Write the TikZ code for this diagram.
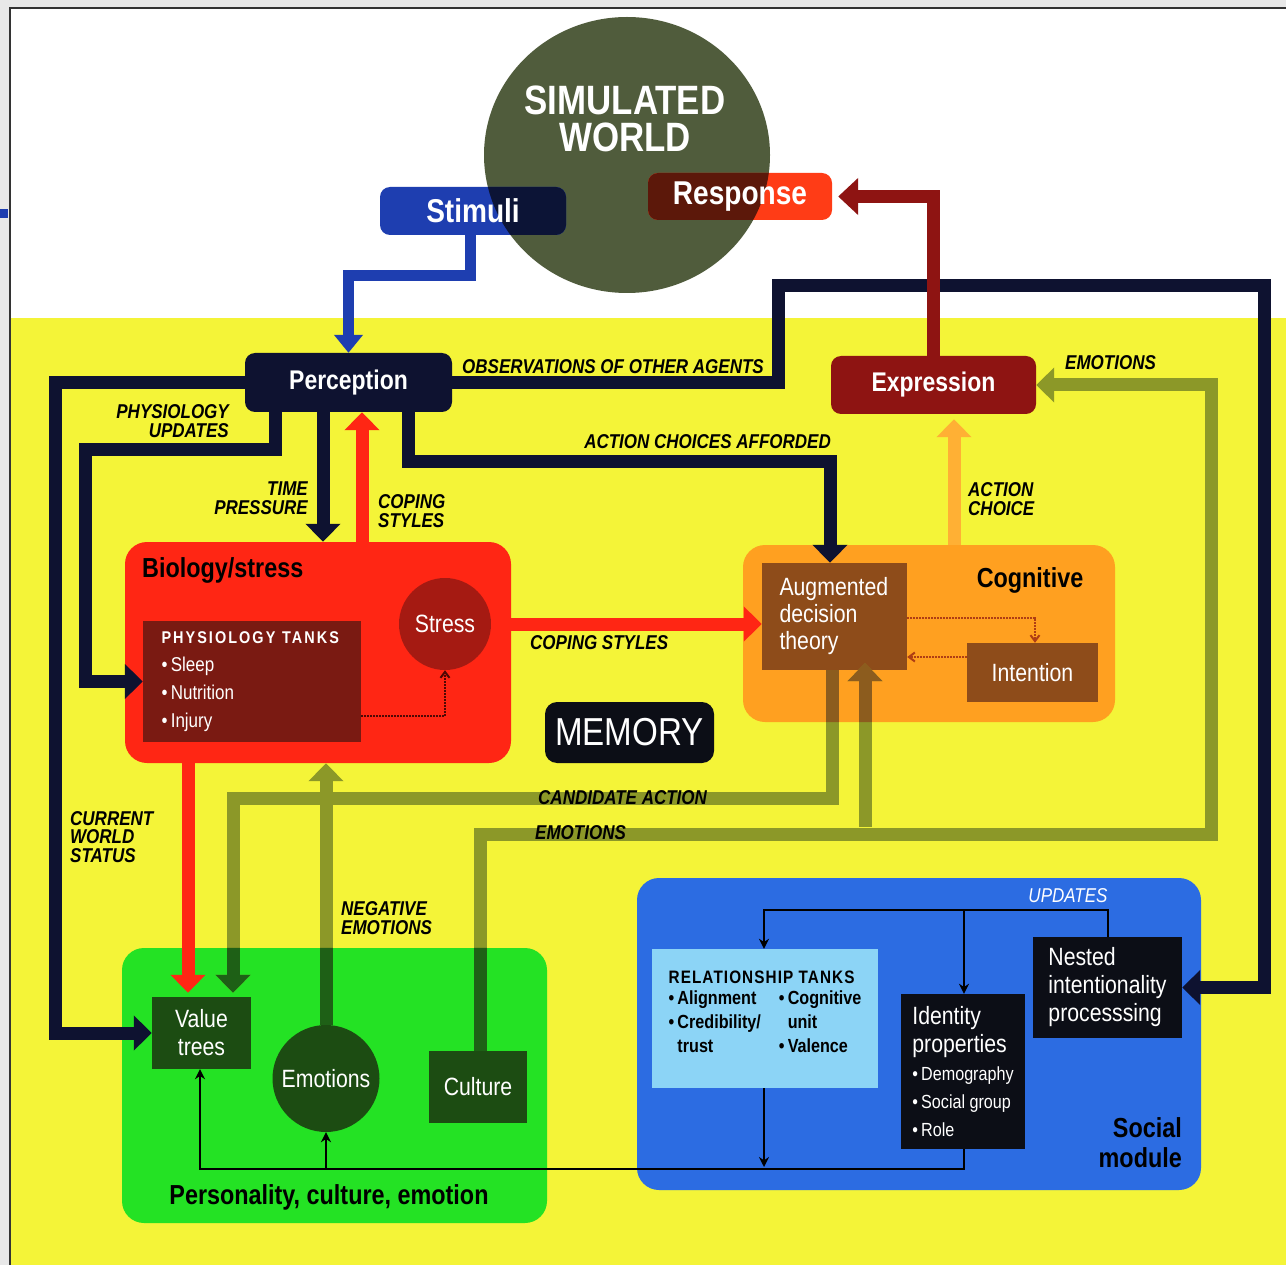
\documentclass[tikz,border=0pt]{standalone}
\usepackage{fontspec}
\setmainfont{Liberation Sans}[FakeStretch=0.85]
\usetikzlibrary{arrows.meta, positioning, shapes.geometric}

\definecolor{paper}{RGB}{232,232,232}
\definecolor{bgyellow}{RGB}{244,244,56}
\definecolor{navyline}{RGB}{14,18,48}
\definecolor{worldgreen}{RGB}{80,92,60}
\definecolor{stimblue}{RGB}{30,62,176}
\definecolor{stimdark}{RGB}{12,20,54}
\definecolor{respred}{RGB}{255,60,22}
\definecolor{respdark}{RGB}{92,24,10}
\definecolor{exprred}{RGB}{142,20,18}
\definecolor{biored}{RGB}{255,38,20}
\definecolor{tankred}{RGB}{122,26,18}
\definecolor{stressred}{RGB}{165,26,18}
\definecolor{cogorange}{RGB}{255,160,32}
\definecolor{actorange}{RGB}{255,176,52}
\definecolor{adtbrown}{RGB}{142,76,26}
\definecolor{persgreen}{RGB}{36,226,36}
\definecolor{treegreen}{RGB}{28,76,18}
\definecolor{emoline}{RGB}{140,152,40}
\definecolor{emogreen}{RGB}{30,96,22}
\definecolor{emobrown}{RGB}{140,92,30}
\definecolor{socblue}{RGB}{44,108,226}
\definecolor{relblue}{RGB}{140,212,246}
\definecolor{boxblack}{RGB}{12,14,22}
\definecolor{dotred}{RGB}{80,8,4}
\definecolor{dotbrown}{RGB}{175,62,20}

\tikzset{
  panel/.style={rectangle, rounded corners=22pt, inner sep=0pt},
  tag/.style={rectangle, rounded corners=10pt, inner sep=0pt, text=white,
    font=\bfseries\fontsize{27}{28}\selectfont},
  inbox/.style={rectangle, inner sep=0pt, text=white,
    font=\fontsize{25}{27}\selectfont},
  paneltitle/.style={inner sep=0pt, font=\bfseries\fontsize{27.5}{30}\selectfont},
  lbl/.style={inner sep=0pt, align=left,
    font=\bfseries\itshape\fontsize{20}{18.5}\selectfont},
  fat/.style={line width=13pt, -{Triangle[width=34pt,length=18pt]}},
  thinarr/.style={line width=2.5pt, -{Stealth[width=10pt,length=10pt]}},
  dotarr/.style={line width=2pt, densely dotted, -{Straight Barb[width=9pt,length=6pt]}},
}

% the green emotion / candidate lines, drawn in one colour
\newcommand{\emolines}[1]{%
  \draw[fat, #1, shorten >=4pt] (adt.south -| ca1) -- (ca1) -- (ca2) -- (value.north -| ca2);
  \draw[fat, #1] (culture.north -| em1) -- (em1) -- (em2) |- (expr.east);
  \draw[fat, #1, shorten >=-7pt] (em3) -- (adt.south -| em3);
  \draw[fat, #1] (emo.north) -- (bio.south -| emo.north);
}

\begin{document}
\begin{tikzpicture}[x=1pt, y=-1pt]
\useasboundingbox (0,0) rectangle (1286,1265);
% backdrop
\fill[paper] (0,0) rectangle (1286,1265);
\fill[white] (10,8) rectangle (1286,318);
\fill[bgyellow] (10,318) rectangle (1286,1265);
\draw[line width=2pt, black!80] (10,1265) -- (10,8) -- (1286,8);
\fill[stimblue] (0,209) rectangle (8,218);

% the world
\node[ellipse, fill=worldgreen, minimum width=286pt, minimum height=276pt, inner sep=0pt] (world) at (627,155) {};
\node[inner sep=0pt, align=center, text=white, font=\bfseries\fontsize{41}{37}\selectfont] (worldtxt) at (625,119) {SIMULATED\\WORLD};
\node[tag, fill=stimblue, minimum width=186pt, minimum height=48pt, font=\bfseries\fontsize{33}{34}\selectfont,
  path picture={\fill[stimdark] (world.center) ellipse [x radius=143pt, y radius=138pt];}] (stim) at (473,211) {Stimuli};
\node[tag, fill=respred, minimum width=184pt, minimum height=47pt, font=\bfseries\fontsize{33}{34}\selectfont,
  path picture={\fill[respdark] (world.center) ellipse [x radius=143pt, y radius=138pt];}] (resp) at (740,196.5) {Response};

\node[tag, fill=navyline, minimum width=207pt, minimum height=59pt] (perc) at (348.5,382.5) {Perception};
\node[tag, fill=exprred, minimum width=205pt, minimum height=58pt] (expr) at (933.5,385) {Expression};

% biology
\node[panel, fill=biored, minimum width=386pt, minimum height=221pt] (bio) at (318,652.5) {};
\node[paneltitle, anchor=west] (biot) at (142,570) {Biology/stress};
\node[inbox, fill=tankred, minimum width=218pt, minimum height=121pt, text width=181pt, align=left,
  font=\fontsize{20}{28}\selectfont] (tanks) at (252,681.5)
  {{\bfseries\addfontfeature{LetterSpace=12}\fontsize{17}{28}\selectfont PHYSIOLOGY TANKS}\\
   \textbullet\,Sleep\\ \textbullet\,Nutrition\\ \textbullet\,Injury};
\node[circle, fill=stressred, minimum size=92pt, inner sep=0pt, text=white,
  font=\fontsize{25}{27}\selectfont] (stress) at (445,624) {Stress};

\node[tag, fill=boxblack, rounded corners=12pt, minimum width=169pt, minimum height=61pt,
  font=\fontsize{39}{40}\selectfont] (mem) at (629.5,732.5) {MEMORY};

% cognitive
\node[panel, fill=cogorange, minimum width=372pt, minimum height=177pt] (cog) at (929,633.5) {};
\node[paneltitle] (cogt) at (1030,580) {Cognitive};
\node[inbox, fill=adtbrown, minimum width=145pt, minimum height=107pt, text width=110pt, align=left]
  (adt) at (834.5,616.5) {Augmented\\decision\\theory};
\node[inbox, fill=adtbrown, minimum width=131pt, minimum height=59pt] (intent) at (1032.5,672.5) {Intention};

% personality
\node[panel, fill=persgreen, minimum width=425pt, minimum height=275pt] (pers) at (334.5,1085.5) {};
\node[paneltitle] (perst) at (329,1197) {Personality, culture, emotion};
\node[inbox, fill=treegreen, minimum width=99pt, minimum height=72pt, align=center,
  font=\fontsize{25}{28}\selectfont] (value) at (201.5,1033) {Value\\trees};
\node[circle, fill=treegreen, minimum size=107pt, inner sep=0pt, text=white,
  font=\fontsize{25}{27}\selectfont] (emo) at (326,1078.5) {Emotions};
\node[inbox, fill=treegreen, minimum width=98pt, minimum height=72pt] (culture) at (478,1087) {Culture};

% social
\node[panel, fill=socblue, minimum width=564pt, minimum height=312pt] (soc) at (919,1034) {};
\node[paneltitle, anchor=east, align=right] (soct) at (1182,1143) {Social\\module};
\node[inner sep=0pt, text=white, font=\itshape\fontsize{20}{20}\selectfont] (updl) at (1068,896) {UPDATES};
\node[inbox, fill=relblue, text=black, minimum width=226pt, minimum height=139pt, align=left,
  font=\bfseries\fontsize{19}{24}\selectfont] (rel) at (765,1018.5)
  {{\addfontfeature{LetterSpace=6}\fontsize{18}{24}\selectfont RELATIONSHIP TANKS}\\[-3pt]
   \begin{tabular}[t]{@{}l@{\hspace{18pt}}l@{}}
   \textbullet\,Alignment & \textbullet\,Cognitive\\
   \textbullet\,Credibility/ & \phantom{\textbullet\,}unit\\
   \phantom{\textbullet\,}trust & \textbullet\,Valence
   \end{tabular}\\[6pt]};
\node[inbox, fill=boxblack, minimum width=124pt, minimum height=155pt, align=left,
  font=\fontsize{25}{28}\selectfont] (ident) at (963,1071.5)
  {Identity\\ properties\\ {\fontsize{19}{28}\selectfont\textbullet\,Demography}\\
   {\fontsize{19}{28}\selectfont\textbullet\,Social group}\\ {\fontsize{19}{28}\selectfont\textbullet\,Role}};
\node[inbox, fill=boxblack, minimum width=149pt, minimum height=101pt, align=left,
  font=\fontsize{25}{28}\selectfont] (nest) at (1107.5,987.5) {Nested\\intentionality\\processsing};

% bend points
\coordinate (bs1) at (470,276);
\coordinate (ob1) at (778,286);
\coordinate (ob2) at (1264,286);
\coordinate (cw) at (55,1033);
\coordinate (pu1) at (275,449);
\coordinate (pu2) at (85,681.5);
\coordinate (tp) at (323,470);
\coordinate (cs) at (362,470);
\coordinate (ac1) at (408,461);
\coordinate (ac2) at (830,461);
\coordinate (ach) at (954,480);
\coordinate (rv) at (188,880);

\draw[fat, stimblue, line width=11pt, -{Triangle[width=28pt,length=18pt]}] (stim.south -| bs1) -- (bs1) -| (perc.north);
\draw[fat, navyline] (perc.east) -| (ob1) -- (ob2) |- (nest.east);
\draw[fat, navyline] (perc.west) -| (cw) -- (value.west);
\draw[fat, navyline] (perc.south -| pu1) -- (pu1) -| (pu2) -- (tanks.west);
\draw[fat, navyline] (perc.south -| tp) -- (bio.north -| tp);
\draw[fat, biored] (bio.north -| cs) -- (perc.south -| cs);
\draw[fat, navyline] (perc.south -| ac1) -- (ac1) -- (ac2) -- (adt.north -| ac2);
\draw[fat, exprred, -{Triangle[width=36pt,length=20pt]}] (expr.north) |- ([xshift=6pt]resp.east);
\draw[fat, biored] (stress.east) -- (stress.east -| adt.west);
\draw[fat, actorange, shorten >=5pt] (cog.north -| ach) -- (expr.south -| ach);
\draw[fat, biored, shorten >=4pt] (bio.south -| rv) -- (value.north -| rv);

% emotion and candidate lines, darker where they cross a panel
\coordinate (ca1) at (832,798);
\coordinate (ca2) at (233,798);
\coordinate (em1) at (480,834);
\coordinate (em2) at (1211,834);
\coordinate (em3) at (865,827);
\emolines{emoline}
\begin{scope}
  \clip[rounded corners=22pt] (pers.south west) rectangle (pers.north east);
  \emolines{emogreen}
\end{scope}
\begin{scope}
  \clip[rounded corners=22pt] (cog.south west) rectangle (cog.north east);
  \emolines{emobrown}
\end{scope}

% inner links
\coordinate (ts) at (445,716);
\coordinate (ai) at (1035,618);
\coordinate (ia) at (940,657);
\draw[dotarr, dotred] (tanks.east |- ts) -- (ts) -- (stress.south);
\draw[dotarr, dotbrown] (adt.east |- ai) -- (ai) -- (intent.north -| ai);
\draw[dotarr, dotbrown] (intent.west |- ia) -- (adt.east |- ia);

\coordinate (up1) at (1108,910);
\coordinate (up2) at (764,910);
\coordinate (up3) at (964,910);
\coordinate (sp1) at (964,1169);
\coordinate (sp2) at (200,1169);
\coordinate (sp3) at (326,1169);
\coordinate (sp4) at (764,1167);
\draw[thinarr, black] (nest.north -| up1) -- (up1) -- (up2) -- (rel.north -| up2);
\draw[thinarr, black] (up3) -- (ident.north -| up3);
\draw[thinarr, black] (ident.south -| sp1) -- (sp1) -- (sp2) -- (value.south -| sp2);
\draw[thinarr, black] (sp3) -- (emo.south);
\draw[thinarr, black] (rel.south -| sp4) -- (sp4);

% labels
\node[lbl, anchor=east, align=right] (lpu) at (229,421) {PHYSIOLOGY\\UPDATES};
\node[lbl, anchor=east, align=right] (ltp) at (308,498) {TIME\\PRESSURE};
\node[lbl, anchor=west] (lcs1) at (378,511) {COPING\\STYLES};
\node[lbl, anchor=west] (lobs) at (462,367) {OBSERVATIONS OF OTHER AGENTS};
\node[lbl, anchor=east] (lacf) at (831,442) {ACTION CHOICES AFFORDED};
\node[lbl, anchor=west] (lemo1) at (1065,363) {EMOTIONS};
\node[lbl, anchor=west] (lach) at (968,499) {ACTION\\CHOICE};
\node[lbl, anchor=west] (lcs2) at (530,643) {COPING STYLES};
\node[lbl, anchor=west] (lcand) at (538,798) {CANDIDATE ACTION};
\node[lbl, anchor=west] (lemo2) at (535,833) {EMOTIONS};
\node[lbl, anchor=west] (lcws) at (70,837) {CURRENT\\WORLD\\STATUS};
\node[lbl, anchor=west] (lneg) at (341,918) {NEGATIVE\\EMOTIONS};
\end{tikzpicture}
\end{document}
